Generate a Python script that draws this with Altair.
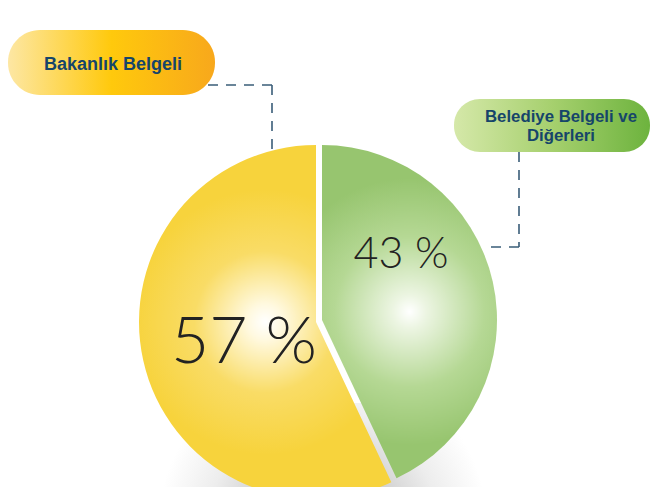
import math
import altair as alt
import pandas as pd

# ---- data ----
categories = ["Belediye Belgeli ve Diğerleri", "Bakanlık Belgeli"]
values = [43, 57]
pct_labels = ["43 %", "57 %"]
box_labels = ["Belediye Belgeli ve\nDiğerleri", "Bakanlık Belgeli"]
order = [0, 1]

df = pd.DataFrame({"category": categories, "value": values, "pct": pct_labels,
                   "box": box_labels, "order": order})

W, H = 642, 479
theta_scale = alt.Scale(domain=[0, 100], range=[0, 2 * math.pi])
TXT = "#16456a"
LINE = "#3a5d78"


def radial(stops, cx=0.5, cy=0.5, r=0.5):
    return alt.Gradient(gradient="radial", x1=cx, y1=cy, r1=0, x2=cx, y2=cy, r2=r,
                        stops=[alt.GradientStop(color=c, offset=o) for o, c in stops])


def linear(stops):
    return alt.Gradient(gradient="linear", x1=0, y1=0, x2=1, y2=0,
                        stops=[alt.GradientStop(color=c, offset=o) for o, c in stops])


base = alt.Chart(df).transform_stack(stack="value", groupby=[], as_=["v0", "v1"],
                                     sort=[alt.SortField("order")])
one = alt.Chart(df).transform_filter(alt.datum.order == 1)
zero = alt.Chart(df).transform_filter(alt.datum.order == 0)

shadow = one.mark_rect(
    fill=radial([(0, "#a4a4a4"), (0.35, "#c9c9c9"), (0.7, "#ededed"), (1, "#ffffff")],
                cx=0.5, cy=0.68, r=0.5)
).encode(x=alt.value(150), x2=alt.value(480), y=alt.value(395), y2=alt.value(525))

yellow = base.transform_filter(alt.datum.order == 1).mark_arc(
    radius=177,
    fill=radial([(0, "#ffffff"), (0.1, "#fff9e0"), (0.4, "#f9dc66"), (0.75, "#f7d33c"), (1, "#f7d33c")])
).encode(theta=alt.Theta("v0:Q", scale=theta_scale), theta2="v1:Q",
         x=alt.value(308), y=alt.value(314))

green = base.transform_filter(alt.datum.order == 0).mark_arc(
    radius=175,
    fill=radial([(0, "#ffffff"), (0.1, "#ecf5e2"), (0.45, "#b5d894"), (0.8, "#97c56f"), (1, "#97c56f")])
).encode(theta=alt.Theta("v0:Q", scale=theta_scale), theta2="v1:Q",
         x=alt.value(314), y=alt.value(312))

pct57 = one.mark_text(
    font="Lato", fontWeight=300, fontSize=66, color="#222222", align="center", baseline="alphabetic"
).encode(text="pct:N", x=alt.value(236), y=alt.value(355))

pct43 = zero.mark_text(
    font="Lato", fontWeight=300, fontSize=43, color="#222222", align="center", baseline="alphabetic"
).encode(text="pct:N", x=alt.value(393), y=alt.value(260))

box1 = one.mark_rect(
    cornerRadius=32,
    fill=linear([(0, "#fde7a4"), (0.5, "#ffc90c"), (1, "#f8a81c")])
).encode(x=alt.value(0), x2=alt.value(207), y=alt.value(22), y2=alt.value(87))

box2 = zero.mark_rect(
    cornerRadius=26,
    fill=linear([(0, "#d5e8a9"), (0.5, "#a6d06e"), (1, "#6db33e")])
).encode(x=alt.value(446), x2=alt.value(642), y=alt.value(91), y2=alt.value(144))

box1_text = one.mark_text(
    font="Liberation Sans", fontWeight="bold", fontSize=18, color=TXT, align="center",
    baseline="alphabetic"
).encode(text="box:N", x=alt.value(105), y=alt.value(62))

box2_text = zero.mark_text(
    font="Liberation Sans", fontWeight="bold", fontSize=16.8, color=TXT, align="center",
    baseline="alphabetic", lineBreak="\n", lineHeight=19
).encode(text="box:N", x=alt.value(553), y=alt.value(114))

dash = dict(color=LINE, strokeWidth=1.6, strokeDash=[10, 8])
lead1a = one.mark_rule(**dash).encode(x=alt.value(200), x2=alt.value(264), y=alt.value(77), y2=alt.value(77))
lead1b = one.mark_rule(**dash).encode(x=alt.value(264), x2=alt.value(264), y=alt.value(77), y2=alt.value(142))
lead2a = one.mark_rule(**dash).encode(x=alt.value(511), x2=alt.value(511), y=alt.value(144), y2=alt.value(239))
lead2b = one.mark_rule(**dash).encode(x=alt.value(511), x2=alt.value(480), y=alt.value(239), y2=alt.value(239))

chart = alt.layer(
    shadow, lead1a, lead1b, lead2a, lead2b, yellow, green, pct57, pct43,
    box1, box2, box1_text, box2_text
).properties(width=W, height=H, padding=0, autosize="none").configure_view(stroke=None)

chart.save("out.html", embed_options={"renderer": "svg", "actions": False})
